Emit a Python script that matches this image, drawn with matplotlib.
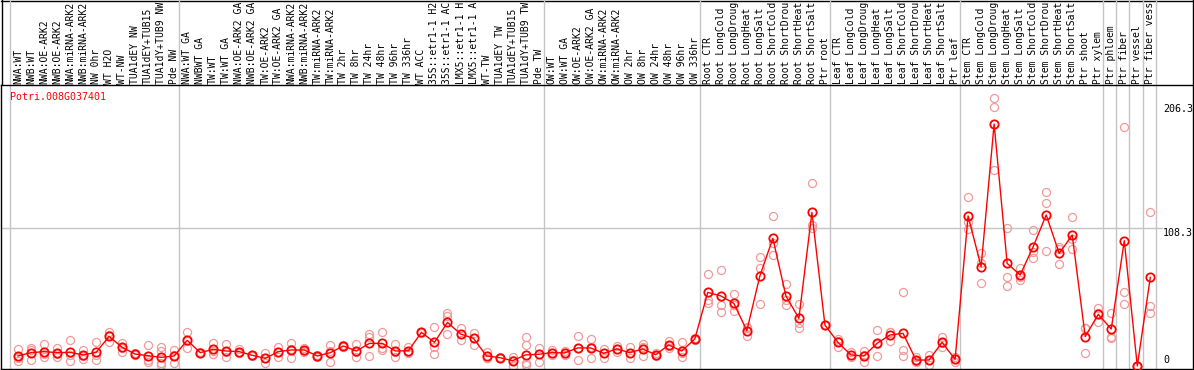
import numpy as np
import matplotlib
matplotlib.use("Agg")
import matplotlib.pyplot as plt

# ---------------- data ----------------
gene = "Potri.008G037401"

labels = [
    "NWA:WT", "NWB:WT", "NWA:OE-ARK2", "NWB:OE-ARK2", "NWA:miRNA-ARK2", "NWB:miRNA-ARK2",
    "NW 0hr", "WT H2O", "WT-NW", "TUA1dEY NW", "TUA1dEY+TUB15", "TUA1dY+TUB9 NW", "Pde NW",
    "NWA:WT GA", "NWBWT GA", "TW:WT", "TW:WT GA", "NWA:OE-ARK2 GA", "NWB:OE-ARK2 GA",
    "TW:OE-ARK2", "TW:OE-ARK2 GA", "NWA:miRNA-ARK2", "NWB:miRNA-ARK2", "TW:miRNA-ARK2",
    "TW:miRNA-ARK2", "TW 2hr", "TW 8hr", "TW 24hr", "TW 48hr", "TW 96hr", "TW 336hr",
    "WT ACC", "35S::etr1-1 H2", "35S::etr1-1 AC", "LMX5::etr1-1 H", "LMX5::etr1-1 A",
    "WT-TW", "TUA1dEY TW", "TUA1dEY+TUB15", "TUA1dY+TUB9 TW", "Pde TW",
    "OW:WT", "OW:WT GA", "OW:OE-ARK2", "OW:OE-ARK2 GA", "OW:miRNA-ARK2", "OW:miRNA-ARK2",
    "OW 2hr", "OW 8hr", "OW 24hr", "OW 48hr", "OW 96hr", "OW 336hr",
    "Root CTR", "Root LongCold", "Root LongDroug", "Root LongHeat", "Root LongSalt",
    "Root ShortCold", "Root ShortDrou", "Root ShortHeat", "Root ShortSalt", "Ptr root",
    "Leaf CTR", "Leaf LongCold", "Leaf LongDroug", "Leaf LongHeat", "Leaf LongSalt",
    "Leaf ShortCold", "Leaf ShortDrou", "Leaf ShortHeat", "Leaf ShortSalt", "Ptr leaf",
    "Stem CTR", "Stem LongCold", "Stem LongDroug", "Stem LongHeat", "Stem LongSalt",
    "Stem ShortCold", "Stem ShortDrou", "Stem ShortHeat", "Stem ShortSalt", "Ptr shoot",
    "Ptr xylem", "Ptr phloem", "Ptr fiber", "Ptr vessel", "Ptr fiber vess",
]

means = [
    7.9, 10.5, 11.3, 10.5, 10.7, 8.7, 10.7, 23.3, 14.7, 9.4, 8.1, 6.8, 7.9,
    20.2, 10.5, 13.1, 11.8, 11.3, 8.4, 6.0, 11.3, 12.6, 12.6, 7.9, 10.5, 15.7, 11.8,
    17.8, 17.8, 11.8, 12.0, 26.5, 18.6, 34.3, 25.2, 21.7, 7.9, 6.6, 4.2, 8.7, 9.2,
    10.5, 10.3, 14.2, 14.2, 10.0, 13.4, 10.5, 13.4, 8.9, 16.5, 11.8, 21.2,
    57.9, 55.1, 49.3, 27.8, 70.8, 100.4, 55.1, 37.5, 120.8, 32.2,
    18.6, 8.7, 7.9, 17.8, 24.4, 25.7, 4.7, 4.7, 18.6, 5.2,
    118.0, 78.1, 190.3, 80.7, 71.6, 93.8, 118.8, 88.6, 103.0, 23.1,
    40.6, 29.1, 98.6, 0.0, 69.7,
]

replicates = [
    [13.4, 6.5, 3.9], [14.5, 12.5, 4.7], [17.1, 9.5, 7.3], [14.4, 9.8, 7.3],
    [20.2, 8.5, 3.9], [12.6, 8.2, 5.3], [18.9, 8.5, 4.7], [26.5, 24.6, 18.8],
    [18.3, 14.4, 11.3], [10.0, 9.4, 8.8], [16.5, 4.5, 3.4], [15.2, 12.0, 2.1, 0.8],
    [12.6, 8.9, 2.1],
    [26.5, 19.8, 14.3], [11.0, 10.5, 10.0], [18.3, 11.5, 9.4], [17.1, 11.0, 7.3],
    [13.4, 10.5, 10.0], [9.0, 8.4, 7.8], [10.0, 6.0, 2.1], [15.2, 11.4, 7.3],
    [18.3, 13.5, 6.0], [14.4, 12.0, 11.4], [8.7, 7.9, 7.1], [16.5, 11.6, 3.4],
    [16.5, 15.5, 15.1], [17.3, 10.8, 7.3], [24.9, 23.1, 7.9], [26.5, 14.3, 12.6],
    [17.1, 11.0, 7.3], [15.2, 11.0, 9.9], [27.0, 26.5, 26.0], [30.7, 15.2, 9.4],
    [41.4, 39.6, 25.2], [30.0, 25.2, 20.4], [26.2, 22.4, 16.5], [11.3, 6.5, 6.0],
    [7.0, 6.6, 6.2], [7.3, 5.0, 0.3], [23.1, 16.5, 2.1, 0.8], [14.4, 9.8, 3.4],
    [12.6, 10.5, 8.7], [12.0, 10.0, 8.5], [23.6, 14.0, 5.0], [20.9, 15.2, 6.5],
    [13.4, 10.1, 6.5], [15.7, 13.4, 11.1], [15.2, 10.3, 6.0], [17.3, 15.0, 7.9],
    [9.9, 8.9, 7.9], [19.7, 15.5, 14.3], [18.6, 10.0, 6.8], [21.8, 21.2, 20.6],
    [72.3, 51.9, 49.3], [75.5, 48.0, 42.2], [56.6, 48.0, 43.2], [29.5, 30.5, 23.3],
    [86.0, 76.9, 48.7], [118.0, 96.5, 87.3], [64.5, 52.0, 48.0], [48.7, 33.6, 29.7],
    [143.7, 110.9, 108.8], [32.5, 32.2, 31.9],
    [21.2, 19.4, 15.2], [10.7, 8.7, 6.8], [11.8, 9.0, 2.9], [28.3, 17.2, 7.9],
    [27.0, 26.5, 19.7], [57.9, 12.6, 7.9], [7.3, 4.0, 2.9], [8.7, 4.6, 0.8],
    [22.5, 18.1, 15.2], [7.3, 5.2, 3.1],
    [132.7, 113.5, 107.7], [88.6, 80.7, 65.0], [210.5, 204.0, 154.1], [108.3, 69.7, 62.9],
    [77.3, 70.0, 67.6], [107.0, 89.5, 84.7], [136.6, 127.9, 90.4], [93.8, 91.8, 80.2],
    [116.9, 100.0, 92.0], [29.6, 29.6, 10.0],
    [45.9, 41.6, 34.3], [41.4, 23.1, 21.8], [188.2, 57.9, 48.5], [0.0, 0.0, 0.0],
    [120.8, 47.2, 41.4],
]

group_sizes = [13, 28, 12, 10, 10, 11, 1, 1, 1, 1]
y_labels = [0, 108.3, 206.3]

# ---------------- figure ----------------
W, H, DPI = 1194, 370, 100
fig = plt.figure(figsize=(W / DPI, H / DPI), dpi=DPI)
fig.patch.set_facecolor("white")

mono = "DejaVu Sans Mono"
fs = 7.2
fs_lab = 7.0
red = "#ff0000"
rep_col = "#f09a9a"
grid_col = "#c4c4c4"

top_px, bot_px = 85, 369
ax = fig.add_axes([1 / W, (H - bot_px) / H, 1192 / W, (bot_px - top_px) / H])
ax.set_xlim(-1.306, 90.28)
ax.set_ylim(-2.36, 221.0)
ax.set_xticks([])
ax.set_yticks([])
for s in ax.spines.values():
    s.set_color("black")
    s.set_linewidth(1.0)

x = np.arange(len(labels))

# group separator lines (extend up through label area)
ext = bot_px / (bot_px - top_px)
bounds = np.concatenate([[0], np.cumsum(group_sizes)]) - 0.6
for b in bounds:
    ax.axvline(b, ymin=0, ymax=ext, color=grid_col, lw=1.0, clip_on=False, zorder=0.5)

# horizontal reference line
ax.axhline(y_labels[1], xmin=0, xmax=(1162 - 1) / 1192, color=grid_col, lw=1.0, zorder=0.5)

# replicate points
for xi, reps in zip(x, replicates):
    ax.plot([xi] * len(reps), reps, linestyle="none", marker="o", ms=5.8,
            mfc="none", mec=rep_col, mew=0.9, zorder=2)

# mean line + markers
ax.plot(x, means, color=red, lw=1.0, marker="o", ms=6.0, mfc="none",
        mec=red, mew=1.3, zorder=3)

# column labels
for xi, lab in zip(x, labels):
    ax.annotate(lab, xy=(xi, 1), xycoords=("data", "axes fraction"),
                xytext=(0, 0.9), textcoords="offset points",
                rotation=90, ha="center", va="bottom",
                family=mono, fontsize=fs_lab, color="black", annotation_clip=False)

# gene name
ax.text(9 / 1192, 1 - 11.7 / (bot_px - top_px), gene, transform=ax.transAxes,
        ha="left", va="center", family=mono, fontsize=fs, color=red)

# right-side value labels
for v in y_labels:
    va = "bottom" if v == min(y_labels) else "top"
    ax.annotate(f"{v:g}", xy=((1163 - 1) / 1192, v), xycoords=("axes fraction", "data"),
                xytext=(0, 0 if va == "top" else 1), textcoords="offset points",
                ha="left", va=va, family=mono, fontsize=fs, color="black",
                annotation_clip=False)

# outer border for the label area
ov = fig.add_axes([0, 0, 1, 1], zorder=-1)
ov.set_xlim(0, W)
ov.set_ylim(H, 0)
ov.axis("off")
ov.plot([0.5, W - 0.5], [0.5, 0.5], color="black", lw=1.0)
ov.plot([1.5, 1.5], [0, top_px], color="black", lw=1.0)
ov.plot([W - 1.5, W - 1.5], [0, top_px], color="black", lw=1.0)

fig.savefig("out.png", dpi=DPI, facecolor="white")
